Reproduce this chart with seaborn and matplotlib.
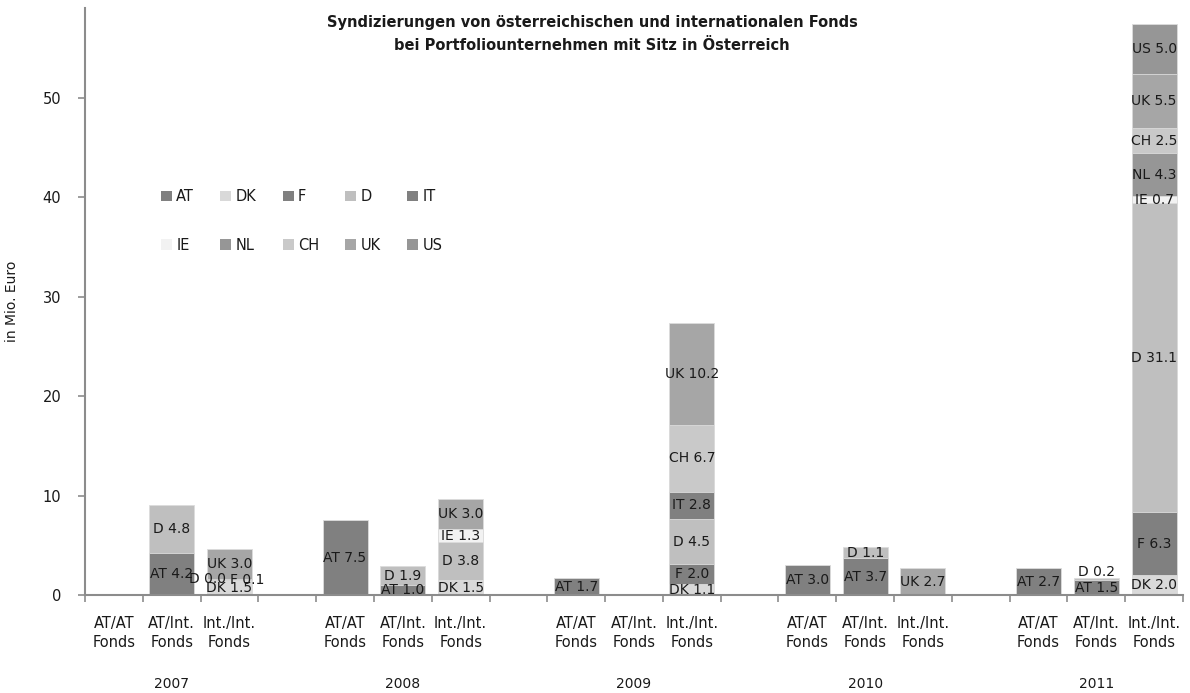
import matplotlib
matplotlib.use("Agg")
import matplotlib.pyplot as plt
import matplotlib.transforms as mtransforms
from matplotlib.patches import Patch
import seaborn as sns
import pandas as pd
import numpy as np

nan = np.nan

years = ["2007", "2008", "2009", "2010", "2011"]
fund_types = ["AT/AT\nFonds", "AT/Int.\nFonds", "Int./Int.\nFonds"]
countries = ["AT", "DK", "F", "D", "IT", "IE", "NL", "CH", "UK", "US"]
colors = ["#808080", "#d9d9d9", "#808080", "#bfbfbf", "#808080",
          "#f2f2f2", "#969696", "#c9c9c9", "#a6a6a6", "#969696"]

# one entry per bar: 2007 AT/AT, 2007 AT/Int., 2007 Int./Int., 2008 AT/AT, ...
AT = [nan, 4.2, nan, 7.5, 1.0, nan, 1.7, nan, nan, 3.0, 3.7, nan, 2.7, 1.5, nan]
DK = [nan, nan, 1.5, nan, nan, 1.5, nan, nan, 1.1, nan, nan, nan, nan, nan, 2.0]
F = [nan, nan, 0.1, nan, nan, nan, nan, nan, 2.0, nan, nan, nan, nan, nan, 6.3]
D = [nan, 4.8, 0.0, nan, 1.9, 3.8, nan, nan, 4.5, nan, 1.1, nan, nan, 0.2, 31.1]
IT = [nan, nan, nan, nan, nan, nan, nan, nan, 2.8, nan, nan, nan, nan, nan, nan]
IE = [nan, nan, nan, nan, nan, 1.3, nan, nan, nan, nan, nan, nan, nan, nan, 0.7]
NL = [nan, nan, nan, nan, nan, nan, nan, nan, nan, nan, nan, nan, nan, nan, 4.3]
CH = [nan, nan, nan, nan, nan, nan, nan, nan, 6.7, nan, nan, nan, nan, nan, 2.5]
UK = [nan, nan, 3.0, nan, nan, 3.0, nan, nan, 10.2, nan, nan, 2.7, nan, nan, 5.5]
US = [nan, nan, nan, nan, nan, nan, nan, nan, nan, nan, nan, nan, nan, nan, 5.0]
series = [AT, DK, F, D, IT, IE, NL, CH, UK, US]

# category slots incl. empty gap between years
slots, bar_slots = [], []
for i, y in enumerate(years):
    for f in fund_types:
        slots.append(f"{y}|{f}")
        bar_slots.append(f"{y}|{f}")
    if i < len(years) - 1:
        slots.append(f"gap{i}")

rows = []
for j, s in enumerate(bar_slots):
    base = 0.0
    for c, vals in zip(countries, series):
        v = vals[j]
        if np.isnan(v):
            continue
        rows.append({"slot": s, "country": c, "value": v,
                     "bottom": base, "top": base + v})
        base += v
df = pd.DataFrame(rows)

sns.set_theme(style="white")
plt.rcParams["font.family"] = ["DejaVu Sans"]
txt = "#1a1a1a"
grey = "#8c8c8c"

fig = plt.figure(figsize=(11.9, 6.93), dpi=100)
ax = fig.add_axes([85 / 1190, 1 - 595 / 693, 1098 / 1190, 587 / 693])

# stacked bars: draw cumulative tops from the top series down
for c, col in reversed(list(zip(countries, colors))):
    sub = df[(df["country"] == c) & (df["value"] > 0)]
    if sub.empty:
        continue
    sns.barplot(data=sub, x="slot", y="top", order=slots, color=col,
                saturation=1, width=0.78, errorbar=None, ax=ax,
                edgecolor="#dcdcdc", linewidth=0.6)

pos = {s: i for i, s in enumerate(slots)}
nudge = {("2007|Int./Int.\nFonds", "D"): (-22, 0),
         ("2007|Int./Int.\nFonds", "F"): (18, 0),
         ("2011|AT/Int.\nFonds", "D"): (0, 7)}
for _, r in df.iterrows():
    dx, dy = nudge.get((r["slot"], r["country"]), (0, 0))
    ax.annotate(f"{r['country']} {r['value']:.1f}",
                (pos[r["slot"]], r["bottom"] + r["value"] / 2),
                xytext=(dx * 0.72, dy * 0.72), textcoords="offset points",
                ha="center", va="center", fontsize=10, color=txt)

ax.set_xlim(-0.5, len(slots) - 0.5)
ax.set_ylim(0, 59)
ax.set_yticks(range(0, 60, 10))
ax.set_xticks([pos[s] for s in bar_slots])
ax.set_xticklabels([s.split("|")[1] for s in bar_slots])
ax.set_xticks(np.arange(-0.5, len(slots), 1.0), minor=True)
ax.tick_params(axis="x", which="major", length=0, pad=15, labelsize=10.5,
               labelcolor=txt)
ax.tick_params(axis="x", which="minor", length=5, width=1.2, color=grey,
               bottom=True)
ax.tick_params(axis="y", length=5, width=1.2, color=grey, pad=12,
               labelsize=10.5, labelcolor=txt, left=True)
for t in ax.get_xticklabels():
    t.set_linespacing(1.35)
ax.set_xlabel("")
ax.set_ylabel("in Mio. Euro", fontsize=10, color=txt)
ax.yaxis.set_label_coords(-0.060, 0.5)

for sp in ["top", "right"]:
    ax.spines[sp].set_visible(False)
for sp in ["left", "bottom"]:
    ax.spines[sp].set_color(grey)
    ax.spines[sp].set_linewidth(1.5)

trans = mtransforms.blended_transform_factory(ax.transData, ax.transAxes)
for y in years:
    ax.text(pos[f"{y}|{fund_types[1]}"], -0.152, y, transform=trans,
            ha="center", va="center", fontsize=10, color=txt)

# legend filled row-wise (matplotlib fills column-wise)
handles = [Patch(facecolor=col, edgecolor="none", label=c)
           for c, col in zip(countries, colors)]
order = [0, 5, 1, 6, 2, 7, 3, 8, 4, 9]
ax.legend([handles[i] for i in order], [countries[i] for i in order],
          ncol=5, frameon=False, fontsize=10.5, loc="upper left",
          bbox_to_anchor=(161 / 1190, 1 - 189 / 693),
          bbox_transform=fig.transFigure, borderpad=0, borderaxespad=0,
          handlelength=0.75, handleheight=0.75, handletextpad=0.3,
          columnspacing=1.8, labelspacing=2.3, labelcolor=txt)

fig.text(592 / 1190, 1 - 34 / 693,
         "Syndizierungen von österreichischen und internationalen Fonds\n"
         "bei Portfoliounternehmen mit Sitz in Österreich",
         ha="center", va="center", fontsize=10.5, fontweight="bold",
         linespacing=1.6, color=txt)

fig.savefig("out.png", dpi=100)
